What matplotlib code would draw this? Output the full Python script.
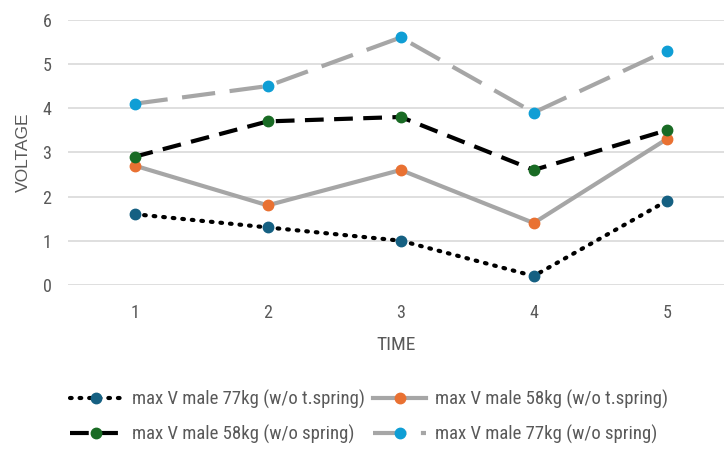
import matplotlib
matplotlib.use("Agg")
import matplotlib.pyplot as plt
from matplotlib import font_manager

time = [1, 2, 3, 4, 5]
s_77_tspring = [1.6, 1.3, 1.0, 0.2, 1.9]
s_58_tspring = [2.7, 1.8, 2.6, 1.4, 3.3]
s_58_spring = [2.9, 3.7, 3.8, 2.6, 3.5]
s_77_spring = [4.1, 4.5, 5.6, 3.9, 5.3]
labels = ["max V male 77kg (w/o t.spring)", "max V male 58kg (w/o t.spring)",
          "max V male 58kg (w/o spring)", "max V male 77kg (w/o spring)"]

names = {f.name for f in font_manager.fontManager.ttflist}
fam = "Roboto"
for cand in ["Roboto Condensed", "Liberation Sans Narrow", "Archivo Narrow",
             "PT Sans Narrow", "Fira Sans Condensed", "IBM Plex Sans Condensed",
             "Barlow Semi Condensed", "Open Sans Condensed"]:
    if cand in names:
        fam = cand
        break
plt.rcParams['font.family'] = [fam, 'DejaVu Sans']

fig = plt.figure(figsize=(7.24, 4.5), dpi=100)
ax = fig.add_axes([0.094, 0.367, 0.906, 0.589])

grey = "#A6A6A6"
l1, = ax.plot(time, s_77_tspring, color="black", lw=3, ls=(0, (0.4, 1.9)),
              dash_capstyle="round", marker="o", ms=7.5, mfc="#156082", mec="#156082", zorder=3)
l2, = ax.plot(time, s_58_tspring, color=grey, lw=3, ls="-",
              marker="o", ms=7.5, mfc="#E97132", mec="#E97132", zorder=3)
l3, = ax.plot(time, s_58_spring, color="black", lw=3, ls=(0, (4.5, 2.5)),
              marker="o", ms=7.5, mfc="#196B24", mec="#196B24", zorder=3)
l4, = ax.plot(time, s_77_spring, color=grey, lw=3, ls=(0, (8, 3.5)),
              marker="o", ms=7.5, mfc="#0F9ED5", mec="#0F9ED5", zorder=3)

ax.set_xlim(0.5, 5.43)
ax.set_ylim(0, 6)
ax.set_xticks(time)
ax.set_yticks(range(0, 7))
ax.grid(axis="y", color="#D9D9D9", lw=1.2)
ax.set_axisbelow(True)
for s in ax.spines.values():
    s.set_visible(False)
ax.tick_params(axis="x", pad=14)
ax.tick_params(axis="y", pad=12)
ax.tick_params(length=0, labelsize=13, labelcolor="#595959")
ax.set_xlabel("TIME", fontsize=14, color="#595959", labelpad=10)
ax.set_ylabel("VOLTAGE", fontsize=12.5, color="#595959", labelpad=8,
              family=["Liberation Sans", "DejaVu Sans"])

fig.legend([l1, l3, l2, l4], [labels[0], labels[2], labels[1], labels[3]],
           ncol=2, loc="center", bbox_to_anchor=(0.51, 0.073), frameon=False,
           fontsize=13.5, labelcolor="#595959", handlelength=2.8, columnspacing=0.45,
           handletextpad=0.5, labelspacing=0.85)

fig.savefig("out.png", dpi=100)
